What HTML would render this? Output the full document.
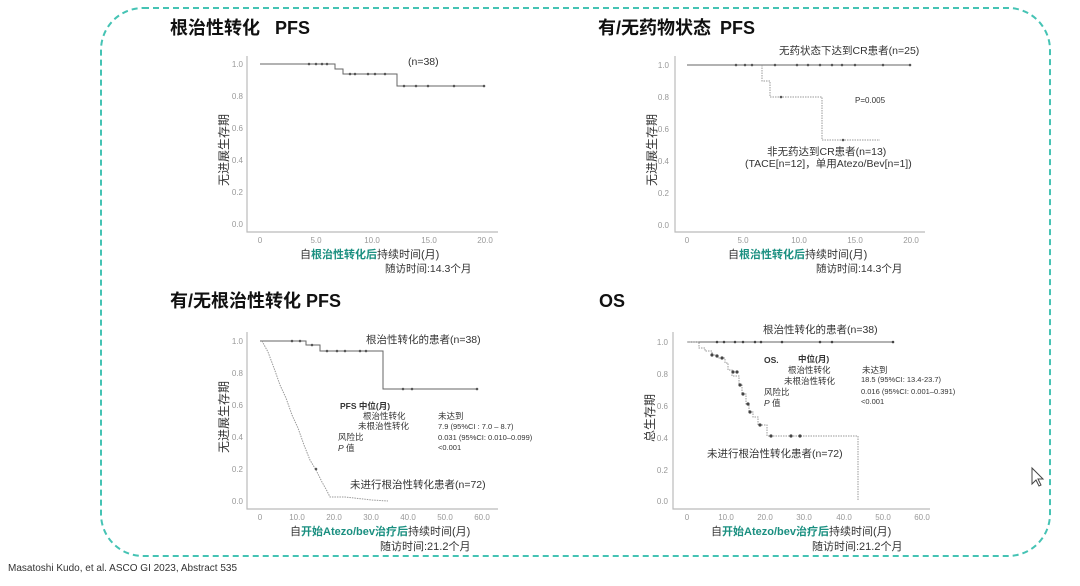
<!DOCTYPE html>
<html><head><meta charset="utf-8"><style>
html,body{margin:0;padding:0;background:#fff;}
svg{display:block;font-family:"Liberation Sans","Noto Sans CJK SC",sans-serif;}
.t{font-size:8px;fill:#999;}
.l{font-size:10.5px;fill:#333;}
.h{font-size:18px;font-weight:bold;fill:#111;}
.ax{stroke:#bbb;stroke-width:1.2;fill:none;}
.c{stroke:#666;stroke-width:1;fill:none;}
.d{stroke:#999;stroke-width:1;fill:none;stroke-dasharray:1.5 1;}
.g{fill:#1a8f80;font-weight:bold;}
</style></head><body>
<svg width="1080" height="586" viewBox="0 0 1080 586">
<rect x="101" y="8" width="949" height="548" rx="42" fill="none" stroke="#45c3b4" stroke-width="2" stroke-dasharray="6 4"/>
<text x="8" y="571" style="font-size:10px;fill:#333">Masatoshi Kudo, et al. ASCO GI 2023, Abstract 535</text>
<path d="M1032 468 l0 16 l4 -4 l3 6 l2 -1 l-3 -6 l5 0 z" fill="#fff" stroke="#444" stroke-width="1"/>

<!-- Panel TL -->
<text x="170" y="34" class="h">根治性转化</text><text x="275" y="34" class="h">PFS</text>
<path class="ax" d="M247 56 V232 H498"/>
<g class="t" text-anchor="end">
<text x="243" y="67">1.0</text><text x="243" y="99">0.8</text><text x="243" y="131">0.6</text><text x="243" y="163">0.4</text><text x="243" y="195">0.2</text><text x="243" y="227">0.0</text></g>
<g class="t" text-anchor="middle">
<text x="260" y="243">0</text><text x="316" y="243">5.0</text><text x="372" y="243">10.0</text><text x="429" y="243">15.0</text><text x="485" y="243">20.0</text></g>
<path class="c" d="M260 64 H335 V69 H343 V74 H397 V86 H484"/>
<g fill="#555"><circle cx="309" cy="64" r="1.3"/><circle cx="316" cy="64" r="1.3"/><circle cx="322" cy="64" r="1.3"/><circle cx="327" cy="64" r="1.3"/><circle cx="350" cy="74" r="1.3"/><circle cx="355" cy="74" r="1.3"/><circle cx="368" cy="74" r="1.3"/><circle cx="375" cy="74" r="1.3"/><circle cx="385" cy="74" r="1.3"/><circle cx="404" cy="86" r="1.3"/><circle cx="416" cy="86" r="1.3"/><circle cx="428" cy="86" r="1.3"/><circle cx="454" cy="86" r="1.3"/><circle cx="484" cy="86" r="1.3"/></g>
<text x="408" y="65" class="l">(n=38)</text>
<text transform="translate(228,186) rotate(-90)" style="font-size:12px;fill:#333">无进展生存期</text>
<text x="300" y="258" class="l" style="font-size:11px">自<tspan class="g">根治性转化后</tspan>持续时间(月)</text>
<text x="385" y="272" class="l">随访时间:14.3个月</text>

<!-- Panel TR -->
<text x="598" y="34" class="h">有/无药物状态</text><text x="720" y="34" class="h">PFS</text>
<path class="ax" d="M675 56 V232 H925"/>
<g class="t" text-anchor="end">
<text x="669" y="68">1.0</text><text x="669" y="100">0.8</text><text x="669" y="132">0.6</text><text x="669" y="164">0.4</text><text x="669" y="196">0.2</text><text x="669" y="228">0.0</text></g>
<g class="t" text-anchor="middle">
<text x="687" y="243">0</text><text x="743" y="243">5.0</text><text x="799" y="243">10.0</text><text x="855" y="243">15.0</text><text x="911" y="243">20.0</text></g>
<path class="c" d="M687 65 H910"/>
<path class="d" d="M762 65 V81 H770 V97 H822 V140 H880"/>
<g fill="#555"><circle cx="736" cy="65" r="1.3"/><circle cx="745" cy="65" r="1.3"/><circle cx="752" cy="65" r="1.3"/><circle cx="775" cy="65" r="1.3"/><circle cx="797" cy="65" r="1.3"/><circle cx="808" cy="65" r="1.3"/><circle cx="820" cy="65" r="1.3"/><circle cx="832" cy="65" r="1.3"/><circle cx="842" cy="65" r="1.3"/><circle cx="855" cy="65" r="1.3"/><circle cx="883" cy="65" r="1.3"/><circle cx="910" cy="65" r="1.3"/><circle cx="781" cy="97" r="1.3"/><circle cx="843" cy="140" r="1.3"/></g>
<text x="779" y="54" class="l">无药状态下达到CR患者(n=25)</text>
<text x="855" y="103" style="font-size:8px;fill:#333">P=0.005</text>
<text x="767" y="155" class="l">非无药达到CR患者(n=13)</text>
<text x="745" y="167" class="l">(TACE[n=12]，单用Atezo/Bev[n=1])</text>
<text transform="translate(656,186) rotate(-90)" style="font-size:12px;fill:#333">无进展生存期</text>
<text x="728" y="258" class="l" style="font-size:11px">自<tspan class="g">根治性转化后</tspan>持续时间(月)</text>
<text x="816" y="272" class="l">随访时间:14.3个月</text>

<!-- Panel BL -->
<text x="170" y="307" class="h">有/无根治性转化 PFS</text>
<path class="ax" d="M247 332 V509 H498"/>
<g class="t" text-anchor="end">
<text x="243" y="344">1.0</text><text x="243" y="376">0.8</text><text x="243" y="408">0.6</text><text x="243" y="440">0.4</text><text x="243" y="472">0.2</text><text x="243" y="504">0.0</text></g>
<g class="t" text-anchor="middle">
<text x="260" y="520">0</text><text x="297" y="520">10.0</text><text x="334" y="520">20.0</text><text x="371" y="520">30.0</text><text x="408" y="520">40.0</text><text x="445" y="520">50.0</text><text x="482" y="520">60.0</text></g>
<path class="c" d="M260 341 H306 V345 H320 V351 H383 V389 H477"/>
<path class="d" d="M262 341 L268 352 L274 368 L280 385 L286 398 L292 415 L298 428 L304 445 L310 460 L316 470 L322 482 L327 491 L330 497 L345 497 L372 500 L388 501"/>
<g fill="#555"><circle cx="292" cy="341" r="1.3"/><circle cx="300" cy="341" r="1.3"/><circle cx="312" cy="345" r="1.3"/><circle cx="327" cy="351" r="1.3"/><circle cx="337" cy="351" r="1.3"/><circle cx="345" cy="351" r="1.3"/><circle cx="360" cy="351" r="1.3"/><circle cx="366" cy="351" r="1.3"/><circle cx="403" cy="389" r="1.3"/><circle cx="412" cy="389" r="1.3"/><circle cx="477" cy="389" r="1.3"/><circle cx="316" cy="469" r="1.3"/></g>
<text x="366" y="343" class="l">根治性转化的患者(n=38)</text>
<text x="350" y="488" class="l">未进行根治性转化患者(n=72)</text>
<g style="font-size:8.5px;fill:#333">
<text x="340" y="409" style="font-weight:bold">PFS   中位(月)</text>
<text x="363" y="419">根治性转化</text><text x="358" y="429">未根治性转化</text>
<text x="338" y="440">风险比</text><text x="338" y="451"><tspan font-style="italic">P</tspan> 值</text>
<text x="438" y="419">未达到</text><text x="438" y="429" style="font-size:7.5px">7.9 (95%CI : 7.0 – 8.7)</text>
<text x="438" y="440" style="font-size:7.5px">0.031 (95%CI: 0.010–0.099)</text><text x="438" y="450" style="font-size:7.5px">&lt;0.001</text></g>
<text transform="translate(228,453) rotate(-90)" style="font-size:12px;fill:#333">无进展生存期</text>
<text x="290" y="535" class="l" style="font-size:11px">自<tspan class="g">开始Atezo/bev治疗后</tspan>持续时间(月)</text>
<text x="380" y="550" class="l" style="font-size:11px">随访时间:21.2个月</text>

<!-- Panel BR -->
<text x="599" y="307" class="h">OS</text>
<path class="ax" d="M673 332 V509 H930"/>
<g class="t" text-anchor="end">
<text x="668" y="345">1.0</text><text x="668" y="377">0.8</text><text x="668" y="409">0.6</text><text x="668" y="441">0.4</text><text x="668" y="473">0.2</text><text x="668" y="504">0.0</text></g>
<g class="t" text-anchor="middle">
<text x="687" y="520">0</text><text x="726" y="520">10.0</text><text x="765" y="520">20.0</text><text x="804" y="520">30.0</text><text x="844" y="520">40.0</text><text x="883" y="520">50.0</text><text x="922" y="520">60.0</text></g>
<path class="c" d="M687 342 H893"/>
<path class="d" d="M687 342 H699 V348 H705 V351 H712 V355 H718 V358 H725 V363 H728 V370 H732 V376 H739 V384 H742 V394 H746 V404 H749 V412 H753 V417 H758 V425 H767 V436 H858 V501"/>
<g fill="#444"><circle cx="717" cy="342" r="1.3"/><circle cx="724" cy="342" r="1.3"/><circle cx="735" cy="342" r="1.3"/><circle cx="743" cy="342" r="1.3"/><circle cx="755" cy="342" r="1.3"/><circle cx="761" cy="342" r="1.3"/><circle cx="782" cy="342" r="1.3"/><circle cx="820" cy="342" r="1.3"/><circle cx="832" cy="342" r="1.3"/><circle cx="893" cy="342" r="1.3"/><circle cx="712" cy="355" r="1.6"/><circle cx="717" cy="356" r="1.6"/><circle cx="722" cy="358" r="1.6"/><circle cx="733" cy="372" r="1.6"/><circle cx="737" cy="372" r="1.6"/><circle cx="740" cy="385" r="1.6"/><circle cx="743" cy="394" r="1.6"/><circle cx="748" cy="404" r="1.6"/><circle cx="750" cy="412" r="1.6"/><circle cx="760" cy="425" r="1.6"/><circle cx="771" cy="436" r="1.6"/><circle cx="791" cy="436" r="1.6"/><circle cx="800" cy="436" r="1.6"/></g>
<text x="763" y="333" class="l">根治性转化的患者(n=38)</text>
<text x="707" y="457" class="l">未进行根治性转化患者(n=72)</text>
<g style="font-size:8.5px;fill:#333">
<text x="764" y="363" style="font-weight:bold">OS.</text><text x="798" y="362" style="font-weight:bold">中位(月)</text>
<text x="788" y="373">根治性转化</text><text x="784" y="384">未根治性转化</text>
<text x="764" y="395">风险比</text><text x="764" y="406"><tspan font-style="italic">P</tspan> 值</text>
<text x="862" y="373">未达到</text><text x="861" y="382" style="font-size:7.5px">18.5 (95%CI: 13.4-23.7)</text>
<text x="861" y="394" style="font-size:7.5px">0.016 (95%CI: 0.001–0.391)</text><text x="861" y="404" style="font-size:7.5px">&lt;0.001</text></g>
<text transform="translate(654,442) rotate(-90)" style="font-size:12px;fill:#333">总生存期</text>
<text x="711" y="535" class="l" style="font-size:11px">自<tspan class="g">开始Atezo/bev治疗后</tspan>持续时间(月)</text>
<text x="812" y="550" class="l" style="font-size:11px">随访时间:21.2个月</text>
</svg>
</body></html>
